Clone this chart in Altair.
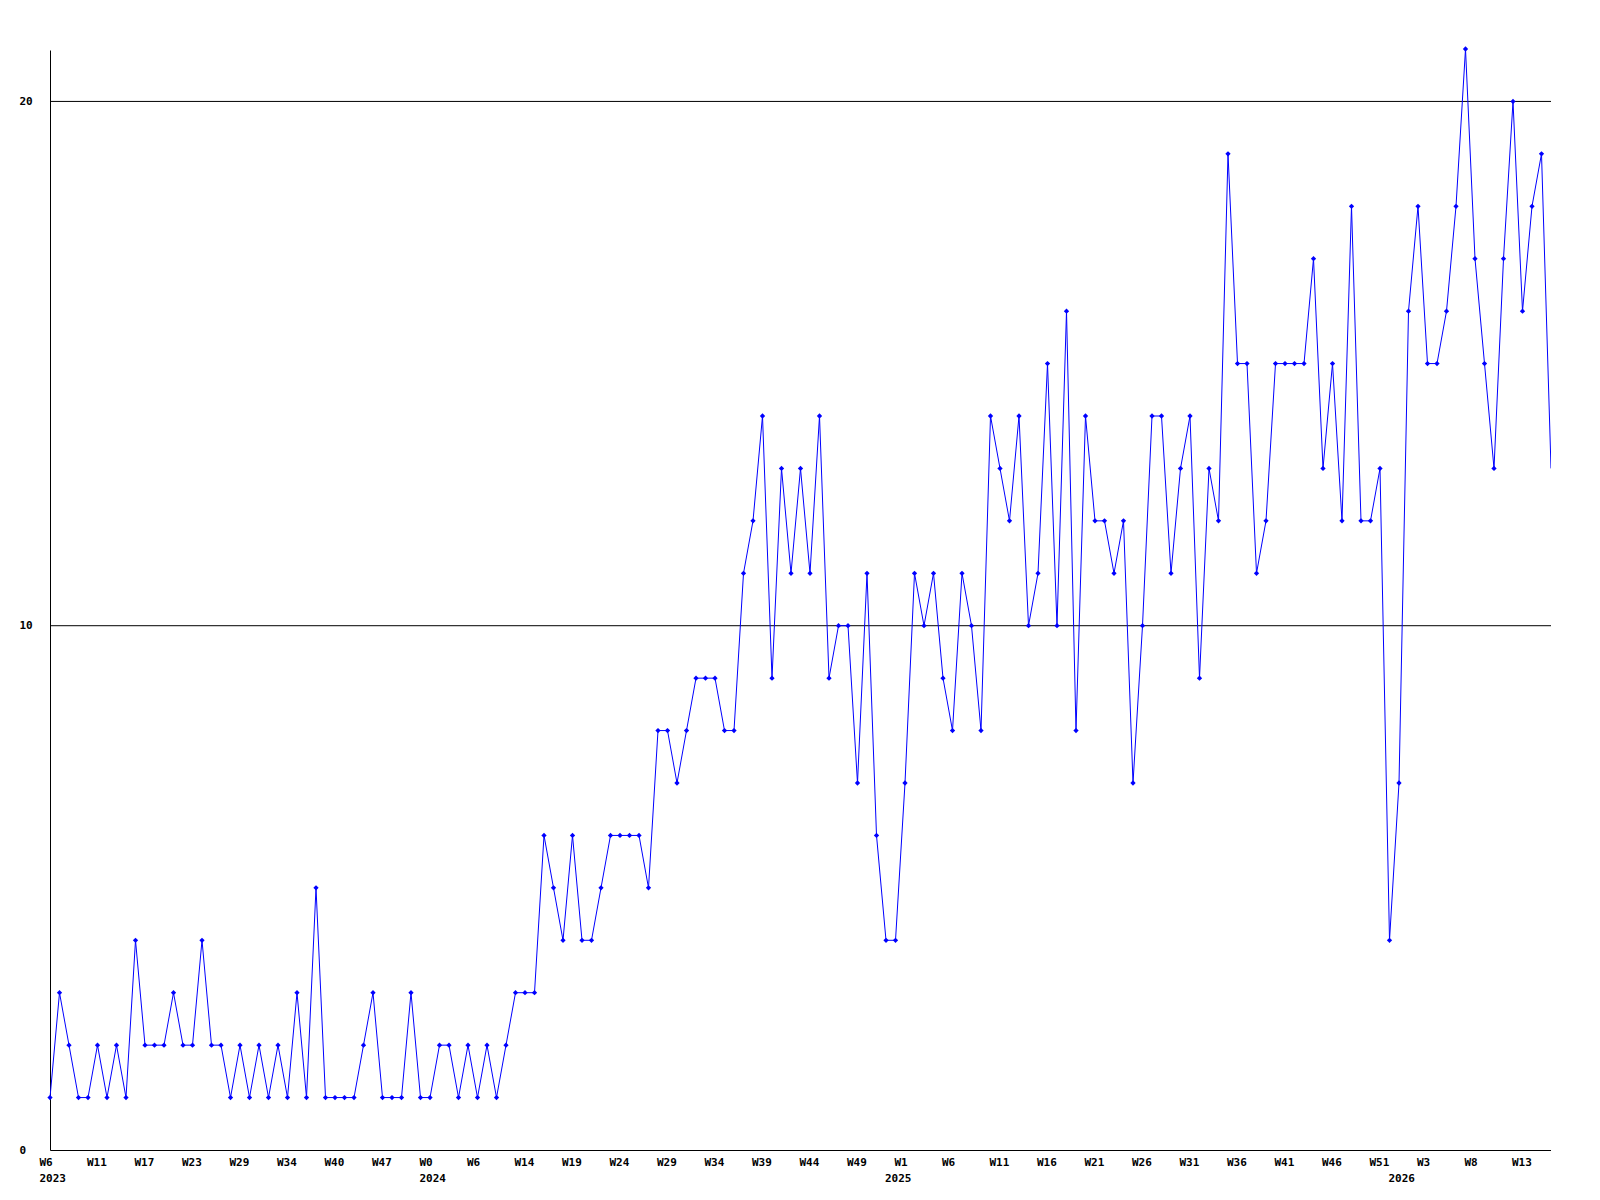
import altair as alt
import pandas as pd

values = [1, 3, 2, 1, 1, 2, 1, 2, 1, 4, 2, 2, 2, 3, 2, 2, 4, 2, 2, 1,
          2, 1, 2, 1, 2, 1, 3, 1, 5, 1, 1, 1, 1, 2, 3, 1, 1, 1, 3, 1,
          1, 2, 2, 1, 2, 1, 2, 1, 2, 3, 3, 3, 6, 5, 4, 6, 4, 4, 5, 6,
          6, 6, 6, 5, 8, 8, 7, 8, 9, 9, 9, 8, 8, 11, 12, 14, 9, 13, 11, 13,
          11, 14, 9, 10, 10, 7, 11, 6, 4, 4, 7, 11, 10, 11, 9, 8, 11, 10, 8, 14,
          13, 12, 14, 10, 11, 15, 10, 16, 8, 14, 12, 12, 11, 12, 7, 10, 14, 14, 11, 13,
          14, 9, 13, 12, 19, 15, 15, 11, 12, 15, 15, 15, 15, 17, 13, 15, 12, 18, 12, 12,
          13, 4, 7, 16, 18, 15, 15, 16, 18, 21, 17, 15, 13, 17, 20, 16, 18, 19, 13]

# week labels shown at every 5th point
week_labels = ["W6", "W11", "W17", "W23", "W29", "W34", "W40", "W47", "W0", "W6",
               "W14", "W19", "W24", "W29", "W34", "W39", "W44", "W49", "W1", "W6",
               "W11", "W16", "W21", "W26", "W31", "W36", "W41", "W46", "W51", "W3",
               "W8", "W13"]
label_step = 5
# year labels: point index where each year starts
year_idx = [0, 40, 89, 142]
year_names = ["2023", "2024", "2025", "2026"]
y_ticks = [0, 10, 20]
grid_values = [10, 20]
y_max = 21

df = pd.DataFrame({"idx": list(range(len(values))), "value": values})
grid_df = pd.DataFrame({"g": grid_values})
top_df = pd.DataFrame({"g": [y_max]})
last_idx = len(values) - 1

label_map = {}
for i, w in enumerate(week_labels):
    label_map[i * label_step] = [w]
for yi, yn in zip(year_idx, year_names):
    if yi in label_map:
        label_map[yi] = label_map[yi] + [yn]
    else:
        label_map[yi] = ["", yn]

tick_vals = sorted(label_map.keys())
parts = []
for v in tick_vals:
    lab = label_map[v]
    if len(lab) == 1:
        parts.append("datum.value == %d ? '%s'" % (v, lab[0]))
    else:
        parts.append("datum.value == %d ? ['%s','%s']" % (v, lab[0], lab[1]))
label_expr = " : ".join(parts) + " : ''"

FONT = "DejaVu Sans Mono"

x_scale = alt.Scale(domain=[0, last_idx], nice=False, zero=False)
y_scale = alt.Scale(domain=[0, y_max], nice=False)

x_axis = alt.Axis(
    values=tick_vals,
    labelExpr=label_expr,
    title=None,
    grid=False,
    ticks=False,
    tickSize=0,
    domainColor="black",
    domainWidth=1,
    labelAlign="left",
    labelBaseline="top",
    labelOffset=-11,
    labelPadding=6,
    labelFont=FONT,
    labelFontWeight="bold",
    labelFontSize=11,
    labelColor="black",
    labelLineHeight=16,
    labelOverlap=False,
    labelFlush=False,
)
y_axis = alt.Axis(
    values=y_ticks,
    title=None,
    grid=False,
    ticks=False,
    tickSize=0,
    domainColor="black",
    domainWidth=1,
    labelAlign="left",
    labelBaseline="middle",
    labelPadding=31,
    labelFont=FONT,
    labelFontWeight="bold",
    labelFontSize=11,
    labelColor="black",
)

x_enc = alt.X("idx:Q", scale=x_scale, axis=x_axis)
y_enc = alt.Y("value:Q", scale=y_scale, axis=y_axis)

grid = (
    alt.Chart(grid_df)
    .mark_rule(color="black", strokeWidth=1)
    .encode(y=alt.Y("g:Q", scale=y_scale, axis=y_axis))
)
top_mask = (
    alt.Chart(top_df)
    .mark_rule(color="white", strokeWidth=3)
    .encode(y=alt.Y("g:Q", scale=y_scale, axis=y_axis))
)
line = alt.Chart(df).mark_line(color="#0000ff", strokeWidth=1).encode(x=x_enc, y=y_enc)
pts = (
    alt.Chart(df)
    .transform_filter(alt.datum.idx < last_idx)
    .mark_point(shape="diamond", filled=True, color="#0000ff", size=28, opacity=1)
    .encode(x=x_enc, y=y_enc)
)

chart = (
    alt.layer(grid, top_mask, line, pts)
    .properties(
        width=1501,
        height=1101,
        padding={"left": 42, "top": 41, "right": 0, "bottom": 40},
        autosize="none",
    )
    .configure_view(stroke="transparent")
    .configure(background="white")
)

chart.save("out.html", embed_options={"renderer": "svg", "actions": False})
